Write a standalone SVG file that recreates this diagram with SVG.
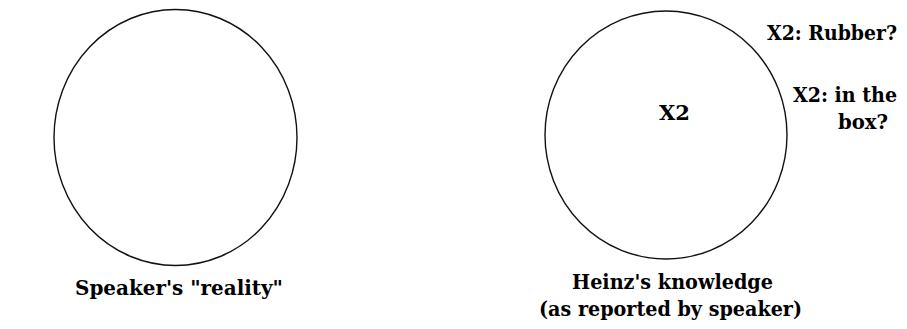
<svg xmlns="http://www.w3.org/2000/svg" width="907" height="329" viewBox="0 0 907 329">
<style>
.ring{fill:none;stroke:#111;stroke-width:1.4}
.t{font-family:"DejaVu Serif","Liberation Serif",serif;font-weight:bold;font-size:20px;fill:#000}
</style>
<rect width="907" height="329" fill="#fff"/>
<g id="speaker-reality">
<ellipse class="ring" cx="175.5" cy="137.5" rx="121.5" ry="128"/>
<text class="t" x="75" y="295" textLength="208" lengthAdjust="spacingAndGlyphs">Speaker's "reality"</text>
</g>
<g id="heinz-knowledge">
<ellipse class="ring" cx="666" cy="135" rx="121" ry="124"/>
<text class="t" x="659" y="120" textLength="31" lengthAdjust="spacingAndGlyphs">X2</text>
<text class="t" x="572" y="289" textLength="201" lengthAdjust="spacingAndGlyphs">Heinz's knowledge</text>
<text class="t" x="539" y="316" textLength="263" lengthAdjust="spacingAndGlyphs">(as reported by speaker)</text>
</g>
<g id="x2-rubber">
<text class="t" x="767" y="40" textLength="130" lengthAdjust="spacingAndGlyphs">X2: Rubber?</text>
</g>
<g id="x2-in-box">
<text class="t" x="793" y="102" textLength="104" lengthAdjust="spacingAndGlyphs">X2: in the</text>
<text class="t" x="838" y="129" textLength="50" lengthAdjust="spacingAndGlyphs">box?</text>
</g>
<g id="connectors"/>
</svg>
